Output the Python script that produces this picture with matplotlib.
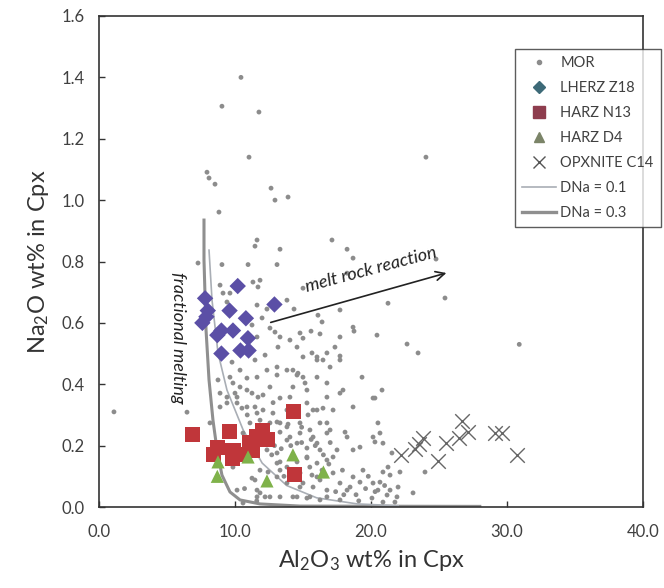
import matplotlib
matplotlib.use("Agg")
import matplotlib.pyplot as plt
from matplotlib.lines import Line2D

plt.rcParams['font.family'] = ['Lato', 'DejaVu Sans']
plt.rcParams['mathtext.fontset'] = 'custom'
plt.rcParams['mathtext.rm'] = 'Lato'
plt.rcParams['mathtext.it'] = 'Lato:italic'

# ---------------- data ----------------
mor_x = [10.44, 9.04, 11.76, 11.03, 24.04, 7.94, 8.09, 8.53, 12.65, 12.94, 13.9, 8.82, 11.62, 11.47, 13.31,
         17.13, 18.24, 18.68, 24.78,
         7.28, 9.04, 10.96, 13.09, 11.32, 11.84, 11.69, 8.9, 9.12, 9.63, 9.41, 11.62, 12.35, 13.82, 11.99,
         11.25, 12.57, 12.94, 13.31, 13.16, 14.04, 14.56, 11.62, 12.21, 11.47, 9.78, 10.37, 10.88, 11.62,
         12.35, 13.09, 13.82, 14.63, 9.63, 9.85, 10.37, 10.88, 11.25, 11.69, 12.57, 14.26, 8.9, 9.41, 10.15,
         18.24, 15.0, 14.34, 21.25, 25.44, 16.1, 16.4, 15.59, 16.25, 18.75, 20.44, 22.65, 23.46, 15.0, 15.66,
         16.03, 16.47, 16.76, 17.35, 17.72, 14.56, 19.34, 15.15, 15.29, 17.72, 20.81, 20.29,
         6.47, 8.75, 9.41, 10.15, 10.88, 11.47, 12.06, 12.79, 11.84, 12.57, 13.31, 11.1, 10.59, 12.57, 13.31,
         13.82, 12.35, 13.09, 13.09, 13.82, 11.84, 11.47, 13.09, 13.82, 11.84, 12.57, 11.62, 10.15, 10.59,
         15.51, 16.76, 16.03, 17.5, 18.24, 18.68, 17.72, 18.68, 16.76, 17.72, 18.24, 15.29, 15.0, 16.03,
         15.51, 14.56, 15.29, 16.03, 17.21, 18.68, 17.94, 16.76, 16.03, 16.99, 17.72, 16.03, 15.0, 14.78,
         18.68, 17.72, 17.72, 15.0, 14.26, 13.09,
         10.0, 12.06, 13.31, 14.04, 16.76, 8.9, 10.51, 11.62, 13.82, 15.74, 8.16, 13.09, 13.82, 14.78, 15.37,
         16.25, 14.04, 14.78, 15.74, 16.76, 14.56, 15.29, 16.25, 13.31, 14.56, 15.29, 16.03, 16.76, 12.43,
         13.31, 14.78, 15.66, 16.25, 11.25, 14.78, 15.74, 16.76, 12.21, 13.31, 14.26, 15.29, 16.25, 11.62,
         9.85,
         20.15, 20.51, 20.66, 20.15, 20.29, 19.19, 20.88, 21.54, 16.99, 18.09, 16.47, 17.21, 19.41, 20.88,
         21.25, 21.4, 22.13, 18.46, 19.19, 20.15, 20.66, 20.51, 21.4, 21.99, 21.18, 21.91, 23.09, 20.07,
         20.88, 21.76, 23.97, 17.21,
         1.1, 30.9,
         14.1, 14.9, 15.9, 16.5, 17.0, 13.6, 14.4, 15.5, 16.9, 17.9, 19.6, 20.3, 21.0, 19.8, 18.9,
         17.4, 18.0, 19.1, 12.9, 13.9, 14.9, 15.6, 16.4, 10.9, 12.7, 13.4, 12.8, 14.0, 10.7, 11.6]
mor_y = [1.40, 1.306, 1.287, 1.14, 1.14, 1.091, 1.072, 1.052, 1.039, 1.0, 1.01, 0.961, 0.87, 0.85, 0.84,
         0.87, 0.84, 0.811, 0.808,
         0.795, 0.79, 0.79, 0.79, 0.733, 0.739, 0.717, 0.723, 0.697, 0.697, 0.668, 0.658, 0.645, 0.674, 0.616,
         0.593, 0.583, 0.57, 0.554, 0.521, 0.544, 0.521, 0.554, 0.495, 0.479, 0.472, 0.446, 0.42, 0.423,
         0.446, 0.43, 0.446, 0.436, 0.423, 0.404, 0.391, 0.381, 0.371, 0.358, 0.391, 0.391, 0.371, 0.358, 0.358,
         0.762, 0.713, 0.645, 0.664, 0.681, 0.625, 0.603, 0.573, 0.564, 0.573, 0.56, 0.531, 0.502, 0.55, 0.502,
         0.489, 0.479, 0.502, 0.521, 0.492, 0.43, 0.423, 0.404, 0.381, 0.371, 0.381, 0.355,
         0.309, 0.414, 0.339, 0.339, 0.326, 0.326, 0.316, 0.306, 0.283, 0.274, 0.274, 0.274, 0.241, 0.228, 0.244,
         0.218, 0.186, 0.176, 0.143, 0.13, 0.12, 0.088, 0.098, 0.078, 0.046, 0.033, 0.033, 0.055, 0.013,
         0.251, 0.274, 0.208, 0.186, 0.228, 0.186, 0.078, 0.098, 0.033, 0.023, 0.055, 0.163, 0.078, 0.098,
         0.033, 0.033, 0.339, 0.316, 0.316, 0.326, 0.381, 0.404, 0.423, 0.456, 0.479, 0.479, 0.489, 0.567,
         0.586, 0.554, 0.642, 0.423, 0.446, 0.456,
         0.371, 0.365, 0.355, 0.358, 0.358, 0.326, 0.322, 0.306, 0.316, 0.316, 0.274, 0.277, 0.261, 0.274, 0.30,
         0.274, 0.228, 0.241, 0.228, 0.241, 0.208, 0.192, 0.186, 0.147, 0.147, 0.16, 0.143, 0.153, 0.114,
         0.12, 0.111, 0.104, 0.088, 0.094, 0.065, 0.065, 0.055, 0.033, 0.033, 0.033, 0.029, 0.023, 0.055,
         0.13,
         0.355, 0.274, 0.241, 0.228, 0.212, 0.195, 0.208, 0.176, 0.251, 0.244, 0.322, 0.163, 0.12, 0.114,
         0.13, 0.104, 0.114, 0.065, 0.081, 0.078, 0.081, 0.055, 0.055, 0.065, 0.039, 0.033, 0.046, 0.029,
         0.016, 0.016, 0.114, 0.111,
         0.31, 0.53,
         0.20, 0.21, 0.20, 0.17, 0.21, 0.10, 0.12, 0.13, 0.14, 0.12, 0.06, 0.05, 0.07, 0.10, 0.04,
         0.05, 0.04, 0.02, 0.20, 0.27, 0.26, 0.22, 0.12, 0.30, 0.17, 0.19, 0.34, 0.31, 0.06, 0.02]

lherz_x = [7.8, 10.2, 12.9, 8.0, 7.6, 9.6, 10.8, 9.0, 9.85, 8.7, 10.95, 10.4, 11.0, 9.0, 7.9]
lherz_y = [0.68, 0.72, 0.66, 0.64, 0.60, 0.64, 0.615, 0.575, 0.575, 0.56, 0.55, 0.51, 0.51, 0.50, 0.62]

harz_n13_x = [6.9, 9.6, 14.3, 12.0, 11.6, 11.1, 8.7, 8.4, 9.85, 9.8, 10.4, 11.25, 14.4, 12.4]
harz_n13_y = [0.235, 0.245, 0.31, 0.25, 0.23, 0.21, 0.195, 0.17, 0.185, 0.16, 0.17, 0.185, 0.105, 0.22]

harz_d4_x = [8.75, 8.7, 10.96, 14.26, 12.35, 16.5]
harz_d4_y = [0.147, 0.10, 0.163, 0.17, 0.085, 0.114]

opx_x = [22.2, 23.2, 23.5, 23.8, 24.9, 25.5, 26.7, 26.5, 27.1, 29.1, 29.6, 30.7]
opx_y = [0.17, 0.19, 0.205, 0.225, 0.15, 0.21, 0.28, 0.225, 0.245, 0.24, 0.24, 0.17]

dna03_x = [7.72, 7.72, 7.87, 8.09, 8.38, 8.68, 9.04, 9.63, 10.37, 11.84, 14.78, 28.0]
dna03_y = [0.935, 0.805, 0.577, 0.414, 0.283, 0.186, 0.104, 0.049, 0.023, 0.010, 0.003, 0.002]

dna01_x = [8.09, 8.31, 8.75, 9.41, 10.6, 12.0, 13.8, 16.0, 19.0, 22.0]
dna01_y = [0.837, 0.674, 0.502, 0.381, 0.251, 0.143, 0.07, 0.03, 0.01, 0.004]

x_ticks = [0, 10, 20, 30, 40]
x_tick_labels = ["0.0", "10.0", "20.0", "30.0", "40.0"]
y_ticks = [0.0, 0.2, 0.4, 0.6, 0.8, 1.0, 1.2, 1.4, 1.6]
y_tick_labels = ["0.0", "0.2", "0.4", "0.6", "0.8", "1.0", "1.2", "1.4", "1.6"]

# ---------------- figure ----------------
W, H = 664, 588
fig = plt.figure(figsize=(W / 100, H / 100), dpi=100)
ax = fig.add_axes([99 / W, 1 - 507 / H, (643 - 99) / W, (507 - 16) / H])

txt = '#404040'

ax.plot(dna03_x, dna03_y, color='#8f8f8f', lw=2.2, zorder=2)
ax.plot(dna01_x, dna01_y, color='#a9aeb5', lw=1.2, zorder=2)

ax.scatter(mor_x, mor_y, s=12, color='#8c8c8c', edgecolors='none', zorder=3)
ax.scatter(lherz_x, lherz_y, marker='D', s=70, color='#5b4fa6', edgecolors='none', zorder=4)
ax.scatter(harz_n13_x, harz_n13_y, marker='s', s=120, color='#c0363a', edgecolors='none', zorder=4)
ax.scatter(harz_d4_x, harz_d4_y, marker='^', s=90, color='#7fb24a', edgecolors='none', zorder=5)
ax.scatter(opx_x, opx_y, marker='x', s=110, color='#666666', linewidths=1.0, zorder=4)

ax.set_xlim(0, 40)
ax.set_ylim(0, 1.6)
ax.set_xticks(x_ticks)
ax.set_xticklabels(x_tick_labels)
ax.set_yticks(y_ticks)
ax.set_yticklabels(y_tick_labels)
ax.tick_params(axis='both', direction='in', length=4, width=1, colors='#333333',
               labelcolor=txt, labelsize=12)
ax.tick_params(axis='x', pad=12)
ax.tick_params(axis='y', pad=10)
for sp in ax.spines.values():
    sp.set_color('#333333')
    sp.set_linewidth(1.2)

ax.set_xlabel('Al$_2$O$_3$ wt% in Cpx', fontsize=17, color='#333333', labelpad=6)
ax.set_ylabel('Na$_2$O wt% in Cpx', fontsize=17, color='#333333', labelpad=8)

ax.text(5.81, 0.55, 'fractional melting', rotation=270, style='italic', fontsize=13,
        color='#222222', ha='center', va='center')
ax.annotate('', xy=(25.74, 0.765), xytext=(12.43, 0.599),
            arrowprops=dict(arrowstyle='->', color='#222222', lw=1.2, mutation_scale=16))
ax.text(20.0, 0.775, 'melt rock reaction', rotation=15, style='italic', fontsize=13,
        color='#222222', ha='center', va='center', rotation_mode='anchor')

handles = [
    Line2D([], [], ls='none', marker='o', ms=3, color='#8c8c8c'),
    Line2D([], [], ls='none', marker='D', ms=6, color='#3d6a78'),
    Line2D([], [], ls='none', marker='s', ms=8, color='#8e3d4e'),
    Line2D([], [], ls='none', marker='^', ms=7, color='#7b8468'),
    Line2D([], [], ls='none', marker='x', ms=8, color='#555555', mew=1.0),
    Line2D([], [], color='#a9aeb5', lw=1.2),
    Line2D([], [], color='#8f8f8f', lw=2.4),
]
labels = ['MOR', 'LHERZ Z18', 'HARZ N13', 'HARZ D4', 'OPXNITE C14', 'DNa = 0.1', 'DNa = 0.3']
leg = fig.legend(handles, labels, loc='upper left', bbox_to_anchor=(515 / W, 1 - 49 / H),
                 frameon=True, fancybox=False, fontsize=10.5, labelcolor=txt,
                 handlelength=2.3, handletextpad=0.3, labelspacing=0.75,
                 borderpad=0.5, borderaxespad=0, edgecolor='#333333')
leg.get_frame().set_linewidth(1.0)
leg.set_zorder(10)

fig.savefig('out.png', dpi=100, facecolor='white')
